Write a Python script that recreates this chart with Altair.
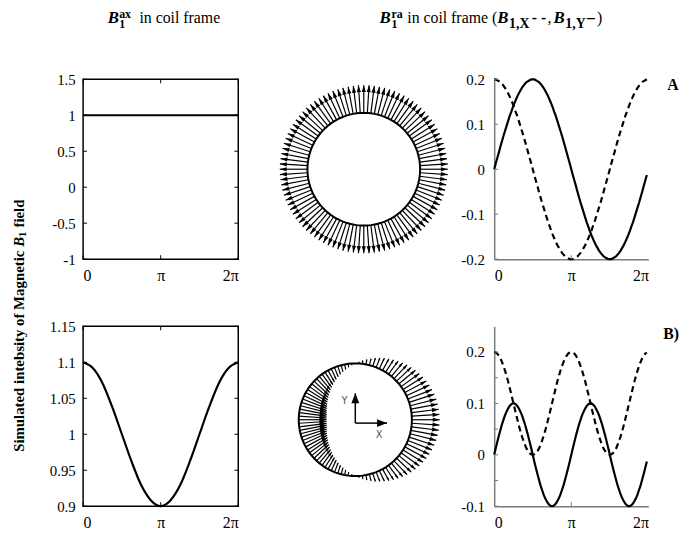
import altair as alt
import pandas as pd

SERIF = "Liberation Serif"

# ---------------- data ----------------
# sample index k: angle around the coil = k * 3.6 degrees (100 samples)
k_idx = list(range(100))

# row A: B1_ra components in coil frame
bx_top = [0.200, 0.200, 0.198, 0.196, 0.194, 0.190, 0.186, 0.181, 0.175, 0.169,
          0.162, 0.154, 0.146, 0.137, 0.127, 0.118, 0.107, 0.096, 0.085, 0.074,
          0.062, 0.050, 0.037, 0.025, 0.013, 0.000, -0.013, -0.025, -0.037, -0.050,
          -0.062, -0.074, -0.085, -0.096, -0.107, -0.118, -0.127, -0.137, -0.146, -0.154,
          -0.162, -0.169, -0.175, -0.181, -0.186, -0.190, -0.194, -0.196, -0.198, -0.200,
          -0.200, -0.200, -0.198, -0.196, -0.194, -0.190, -0.186, -0.181, -0.175, -0.169,
          -0.162, -0.154, -0.146, -0.137, -0.127, -0.118, -0.107, -0.096, -0.085, -0.074,
          -0.062, -0.050, -0.037, -0.025, -0.013, 0.000, 0.013, 0.025, 0.037, 0.050,
          0.062, 0.074, 0.085, 0.096, 0.107, 0.118, 0.127, 0.137, 0.146, 0.154,
          0.162, 0.169, 0.175, 0.181, 0.186, 0.190, 0.194, 0.196, 0.198, 0.200]
by_top = [0.000, 0.013, 0.025, 0.037, 0.050, 0.062, 0.074, 0.085, 0.096, 0.107,
          0.118, 0.127, 0.137, 0.146, 0.154, 0.162, 0.169, 0.175, 0.181, 0.186,
          0.190, 0.194, 0.196, 0.198, 0.200, 0.200, 0.200, 0.198, 0.196, 0.194,
          0.190, 0.186, 0.181, 0.175, 0.169, 0.162, 0.154, 0.146, 0.137, 0.127,
          0.118, 0.107, 0.096, 0.085, 0.074, 0.062, 0.050, 0.037, 0.025, 0.013,
          0.000, -0.013, -0.025, -0.037, -0.050, -0.062, -0.074, -0.085, -0.096, -0.107,
          -0.118, -0.127, -0.137, -0.146, -0.154, -0.162, -0.169, -0.175, -0.181, -0.186,
          -0.190, -0.194, -0.196, -0.198, -0.200, -0.200, -0.200, -0.198, -0.196, -0.194,
          -0.190, -0.186, -0.181, -0.175, -0.169, -0.162, -0.154, -0.146, -0.137, -0.127,
          -0.118, -0.107, -0.096, -0.085, -0.074, -0.062, -0.050, -0.037, -0.025, -0.013]

# row B: B1_ra components in coil frame
bx_bot = [0.200, 0.199, 0.197, 0.193, 0.188, 0.181, 0.173, 0.164, 0.154, 0.143,
          0.131, 0.119, 0.106, 0.094, 0.081, 0.069, 0.057, 0.046, 0.036, 0.027,
          0.019, 0.012, 0.007, 0.003, 0.001, 0.000, 0.001, 0.003, 0.007, 0.012,
          0.019, 0.027, 0.036, 0.046, 0.057, 0.069, 0.081, 0.094, 0.106, 0.119,
          0.131, 0.143, 0.154, 0.164, 0.173, 0.181, 0.188, 0.193, 0.197, 0.199,
          0.200, 0.199, 0.197, 0.193, 0.188, 0.181, 0.173, 0.164, 0.154, 0.143,
          0.131, 0.119, 0.106, 0.094, 0.081, 0.069, 0.057, 0.046, 0.036, 0.027,
          0.019, 0.012, 0.007, 0.003, 0.001, 0.000, 0.001, 0.003, 0.007, 0.012,
          0.019, 0.027, 0.036, 0.046, 0.057, 0.069, 0.081, 0.094, 0.106, 0.119,
          0.131, 0.143, 0.154, 0.164, 0.173, 0.181, 0.188, 0.193, 0.197, 0.199]
by_bot = [0.000, 0.013, 0.025, 0.037, 0.048, 0.059, 0.068, 0.077, 0.084, 0.090,
          0.095, 0.098, 0.100, 0.100, 0.098, 0.095, 0.090, 0.084, 0.077, 0.068,
          0.059, 0.048, 0.037, 0.025, 0.013, 0.000, -0.013, -0.025, -0.037, -0.048,
          -0.059, -0.068, -0.077, -0.084, -0.090, -0.095, -0.098, -0.100, -0.100, -0.098,
          -0.095, -0.090, -0.084, -0.077, -0.068, -0.059, -0.048, -0.037, -0.025, -0.013,
          0.000, 0.013, 0.025, 0.037, 0.048, 0.059, 0.068, 0.077, 0.084, 0.090,
          0.095, 0.098, 0.100, 0.100, 0.098, 0.095, 0.090, 0.084, 0.077, 0.068,
          0.059, 0.048, 0.037, 0.025, 0.013, 0.000, -0.013, -0.025, -0.037, -0.048,
          -0.059, -0.068, -0.077, -0.084, -0.090, -0.095, -0.098, -0.100, -0.100, -0.098,
          -0.095, -0.090, -0.084, -0.077, -0.068, -0.059, -0.048, -0.037, -0.025, -0.013]

# B1_ax along the coil (angle in units of pi)
ax_t = [0, 0.125, 0.25, 0.375, 0.5, 0.625, 0.75, 0.875, 1,
        1.125, 1.25, 1.375, 1.5, 1.625, 1.75, 1.875, 2]
bax_top = [1.0, 1.0, 1.0, 1.0, 1.0, 1.0, 1.0, 1.0, 1.0,
           1.0, 1.0, 1.0, 1.0, 1.0, 1.0, 1.0, 1.0]
bax_bot = [1.1, 1.092, 1.071, 1.038, 1.0, 0.962, 0.929, 0.908, 0.9,
           0.908, 0.929, 0.962, 1.0, 1.038, 1.071, 1.092, 1.1]

# tick values
pi_ticks = [0, 1, 2]
yt_tl = [-1, -0.5, 0, 0.5, 1, 1.5]
yt_bl = [0.9, 0.95, 1.0, 1.05, 1.1, 1.15]
yt_tr = [-0.2, -0.1, 0, 0.1, 0.2]
yt_br = [-0.1, 0, 0.1, 0.2]
yt_br_minor = [-0.05, 0.05, 0.15]

circle_k = list(range(101))

# small X/Y frame arrows inside panel B (coil-frame units)
mini_axes = {"x": [0, 0], "y": [-0.06, -0.06], "x2": [0.56, 0], "y2": [-0.06, 0.47], "ang": [90, 0]}
mini_labels = {"x": [0.42, -0.19], "y": [-0.27, 0.34], "txt": ["X", "Y"]}

# ---------------- style ----------------
PI_LABEL = "datum.value == 0 ? '0' : (datum.value == 1 ? 'π' : '2π')"
NUM_LABEL = "datum.value < 0 ? '-' + format(-datum.value, '~g') : format(datum.value, '~g')"
K = 2.456          # arrow length scale (plot units per field unit)
HEAD = 14          # arrow head box (px) at |B| = 0.2
HEAD_PATH = "M-0.3,1L0,0L0.3,1Z"
MINI_HEAD = "M0,0L-0.4,1L0.4,1Z"
LW, LH = 157, 182
MW = 221
RW = 156
AXGRAY = "#7a7a7a"


def txt(s, x, y, size=16, weight="normal", style="normal", angle=0,
        align="left", baseline="alphabetic", font=SERIF, color="black"):
    return alt.Chart(pd.DataFrame({"s": [s]})).mark_text(
        font=font, fontSize=size, fontWeight=weight, fontStyle=style,
        angle=angle, align=align, baseline=baseline, color=color
    ).encode(text="s:N", x=alt.value(x), y=alt.value(y))


def x_axis(domain=False):
    kw = dict(values=pi_ticks, labelExpr=PI_LABEL, title=None, labelPadding=17,
              labelBaseline="middle", grid=False, ticks=False, domain=domain,
              labelFont=SERIF, labelFontSize=16, labelColor="black")
    if domain:
        kw.update(domainColor=AXGRAY, domainWidth=1.5)
    return alt.Axis(**kw)


def y_axis(vals, pad, domain=False):
    kw = dict(values=vals, labelExpr=NUM_LABEL, title=None, labelPadding=pad,
              grid=False, ticks=False, domain=domain,
              labelFont=SERIF, labelFontSize=15, labelColor="black")
    if domain:
        kw.update(domainColor=AXGRAY, domainWidth=1.5)
    return alt.Axis(**kw)


def left_panel(vals, dom, yvals, extra):
    xs = alt.Scale(domain=[0, 2], nice=False, zero=False)
    ys = alt.Scale(domain=dom, nice=False, zero=False)
    xa = x_axis()
    ya = y_axis(yvals, 8)
    df = pd.DataFrame({"t": ax_t, "b": vals})
    line = alt.Chart(df).mark_line(color="black", strokeWidth=2.2, interpolate="monotone").encode(
        x=alt.X("t:Q", scale=xs, axis=xa),
        y=alt.Y("b:Q", scale=ys, axis=ya),
    )
    yt = alt.Chart(pd.DataFrame({"v": yvals}))
    xt = alt.Chart(pd.DataFrame({"v": pi_ticks}))
    t1 = yt.mark_rule(color="black", strokeWidth=1).encode(
        y=alt.Y("v:Q", scale=ys, axis=ya), x=alt.value(0), x2=alt.value(4))
    t2 = yt.mark_rule(color="black", strokeWidth=1).encode(
        y=alt.Y("v:Q", scale=ys, axis=ya), x=alt.value(LW), x2=alt.value(LW - 4))
    t3 = xt.mark_rule(color="black", strokeWidth=1).encode(
        x=alt.X("v:Q", scale=xs, axis=xa), y=alt.value(LH), y2=alt.value(LH - 4))
    t4 = xt.mark_rule(color="black", strokeWidth=1).encode(
        x=alt.X("v:Q", scale=xs, axis=xa), y=alt.value(0), y2=alt.value(4))
    return alt.layer(line, t1, t2, t3, t4, *extra).properties(
        width=LW, height=LH, view=alt.ViewBackground(stroke="black", strokeWidth=1.5))


def right_panel(bx, by, dom, yvals, yminor, extra):
    xs = alt.Scale(domain=[0, 2], nice=False, zero=False)
    ys = alt.Scale(domain=dom, nice=False, zero=False)
    xa = x_axis(True)
    ya = y_axis(yvals, 10, True)
    base = alt.Chart(pd.DataFrame({"k": k_idx, "bx": bx, "by": by})).transform_calculate(
        t="datum.k * 0.02")
    solid = base.mark_line(color="black", strokeWidth=2.2).encode(
        x=alt.X("t:Q", scale=xs, axis=xa),
        y=alt.Y("by:Q", scale=ys, axis=ya),
    )
    dashed = base.mark_line(color="black", strokeWidth=2.2, strokeDash=[6, 4]).encode(
        x=alt.X("t:Q", scale=xs, axis=xa),
        y=alt.Y("bx:Q", scale=ys, axis=ya),
    )
    yt = alt.Chart(pd.DataFrame({"v": yvals + yminor})).mark_rule(color=AXGRAY, strokeWidth=1).encode(
        y=alt.Y("v:Q", scale=ys, axis=ya), x=alt.value(0), x2=alt.value(4))
    xt = alt.Chart(pd.DataFrame({"v": [1]})).mark_rule(color=AXGRAY, strokeWidth=1).encode(
        x=alt.X("v:Q", scale=xs, axis=xa), y=alt.value(LH), y2=alt.value(LH - 4))
    return alt.layer(solid, dashed, yt, xt, *extra).properties(width=RW, height=LH)


def mid_panel(bx, by, xdom, ydom, extra):
    xs = alt.Scale(domain=xdom, nice=False, zero=False)
    ys = alt.Scale(domain=ydom, nice=False, zero=False)
    arrows = alt.Chart(pd.DataFrame({"k": k_idx, "bx": bx, "by": by})).transform_calculate(
        th="datum.k * 3.6 * PI / 180"
    ).transform_calculate(
        x0="cos(datum.th)", y0="sin(datum.th)"
    ).transform_calculate(
        x1=f"datum.x0 + {K} * datum.bx",
        y1=f"datum.y0 + {K} * datum.by",
        ang="(450 - atan2(datum.by, datum.bx) * 180 / PI) % 360",
        sz=f"pow({HEAD} * sqrt(datum.bx * datum.bx + datum.by * datum.by) / 0.2, 2)",
    )
    circle = alt.Chart(pd.DataFrame({"k": circle_k})).transform_calculate(
        th="datum.k * 3.6 * PI / 180"
    ).transform_calculate(
        cx="cos(datum.th)", cy="sin(datum.th)"
    ).mark_line(color="black", strokeWidth=2).encode(
        x=alt.X("cx:Q", scale=xs, axis=None),
        y=alt.Y("cy:Q", scale=ys, axis=None),
        order="k:Q",
    )
    shafts = arrows.mark_rule(color="black", strokeWidth=1.2).encode(
        x=alt.X("x0:Q", scale=xs, axis=None), y=alt.Y("y0:Q", scale=ys, axis=None),
        x2="x1:Q", y2="y1:Q",
    )
    heads = arrows.mark_point(shape=HEAD_PATH, filled=True, color="black", opacity=1).encode(
        x=alt.X("x1:Q", scale=xs, axis=None), y=alt.Y("y1:Q", scale=ys, axis=None),
        angle=alt.Angle("ang:Q", scale=None), size=alt.Size("sz:Q", scale=None),
    )
    return alt.layer(circle, shafts, heads, *extra).properties(width=MW, height=LH)


# ---------------- texts ----------------
left_title = [
    txt("B", 25, -57, 17, "bold", "italic"),
    txt("ax", 36.5, -62, 12, "bold"),
    txt("1", 36.5, -52, 12, "bold"),
    txt("in coil frame", 57, -57, 16),
]
y_title = [
    txt("Simulated intebsity of Magnetic", -65, 377, 15, "bold", angle=270, baseline="middle"),
    txt("B", -65, 169.5, 15, "bold", "italic", angle=270, baseline="middle"),
    txt("1", -61, 159.5, 11, "bold", angle=270, baseline="middle"),
    txt("field", -65, 150, 15, "bold", angle=270, baseline="middle"),
]
right_title = [
    txt("B", -116, -57, 17, "bold", "italic"),
    txt("ra", -104, -62, 12, "bold"),
    txt("1", -104, -52, 12, "bold"),
    txt("in coil frame (", -88, -57, 16),
    txt("B", 3, -57, 17, "bold", "italic"),
    txt("1,X", 15, -52, 14, "bold"),
    txt("- -", 38, -57, 16, "bold"),
    txt(",", 54, -57, 16),
    txt("B", 60, -57, 17, "bold", "italic"),
    txt("1,Y", 72, -52, 14, "bold"),
    txt("–", 94, -57, 16, "bold"),
    txt(")", 104, -57, 16),
    txt("A", 181, 6, 16, "bold", align="center", baseline="middle"),
]
right_b = [txt("B)", 171, 8, 16, "bold", baseline="middle")]

# mini frame arrows for panel B (middle)
mxs = alt.Scale(domain=[-1.737, 2.123], nice=False, zero=False)
mys = alt.Scale(domain=[-1.535, 1.658], nice=False, zero=False)
mini_src = alt.Chart(pd.DataFrame(mini_axes))
mini_shaft = mini_src.mark_rule(color="black", strokeWidth=1.5).encode(
    x=alt.X("x:Q", scale=mxs, axis=None), y=alt.Y("y:Q", scale=mys, axis=None),
    x2="x2:Q", y2="y2:Q")
mini_head = mini_src.mark_point(shape=MINI_HEAD, filled=True, color="black", opacity=1, size=400).encode(
    x=alt.X("x2:Q", scale=mxs, axis=None), y=alt.Y("y2:Q", scale=mys, axis=None),
    angle=alt.Angle("ang:Q", scale=None))
mini_text = alt.Chart(pd.DataFrame(mini_labels)).mark_text(
    font="DejaVu Sans", fontSize=10, color="#555555").encode(
    x=alt.X("x:Q", scale=mxs, axis=None), y=alt.Y("y:Q", scale=mys, axis=None), text="txt:N")

# ---------------- panels ----------------
tl = left_panel(bax_top, [-1, 1.5], yt_tl, left_title + y_title)
bl = left_panel(bax_bot, [0.9, 1.15], yt_bl, [])
tm = mid_panel(bx_top, by_top, [-1.895, 1.982], [-1.596, 1.596], [])
bm = mid_panel(bx_bot, by_bot, [-1.737, 2.123], [-1.535, 1.658], [mini_shaft, mini_head, mini_text])
tr = right_panel(bx_top, by_top, [-0.2, 0.2], yt_tr, [], right_title)
br = right_panel(bx_bot, by_bot, [-0.1, 0.25], yt_br, yt_br_minor, right_b)

chart = alt.concat(
    tl, tm, tr, bl, bm, br, columns=3,
    spacing={"row": 68, "column": 19}, bounds="flush", align="each"
).properties(
    padding={"left": 3, "top": -4, "right": 0, "bottom": 0}
).configure_view(strokeWidth=0)

chart.save("out.html", embed_options={"renderer": "svg", "actions": False})
